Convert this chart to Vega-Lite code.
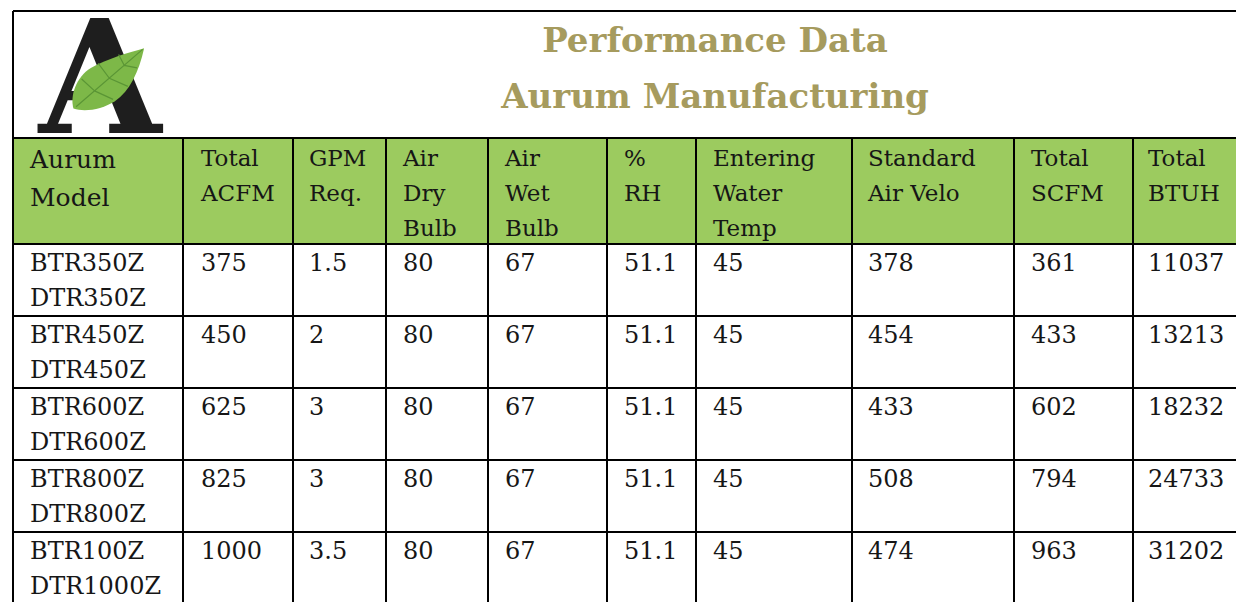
{
  "$schema": "https://vega.github.io/schema/vega-lite/v6.json",
  "padding": {"left": 12, "top": 7, "right": 0, "bottom": 0},
  "columns": 10,
  "spacing": 0,
  "bounds": "flush",
  "config": {
    "view": {"stroke": null},
    "font": "DejaVu Serif",
    "concat": {"spacing": 0},
    "text": {"color": "#161616"},
    "rule": {"color": "#000000", "strokeWidth": 2}
  },
  "datasets": {
    "title": [{"col": "ewt", "title": ["Performance Data", "Aurum Manufacturing"]}],
    "logo": [{"col": "model", "letter": "A"}],
    "headers": [
      {"col": "model", "label": ["Aurum", "Model"]},
      {"col": "acfm", "label": ["Total", "ACFM"]},
      {"col": "gpm", "label": ["GPM", "Req."]},
      {"col": "dry", "label": ["Air", "Dry", "Bulb"]},
      {"col": "wet", "label": ["Air", "Wet", "Bulb"]},
      {"col": "rh", "label": ["%", "RH"]},
      {"col": "ewt", "label": ["Entering", "Water", "Temp"]},
      {"col": "velo", "label": ["Standard", "Air Velo"]},
      {"col": "scfm", "label": ["Total", "SCFM"]},
      {"col": "btuh", "label": ["Total", "BTUH"]}
    ],
    "cells": [
      {"row": 1, "col": "model", "value": ["BTR350Z", "DTR350Z"]},
      {"row": 1, "col": "acfm", "value": "375"},
      {"row": 1, "col": "gpm", "value": "1.5"},
      {"row": 1, "col": "dry", "value": "80"},
      {"row": 1, "col": "wet", "value": "67"},
      {"row": 1, "col": "rh", "value": "51.1"},
      {"row": 1, "col": "ewt", "value": "45"},
      {"row": 1, "col": "velo", "value": "378"},
      {"row": 1, "col": "scfm", "value": "361"},
      {"row": 1, "col": "btuh", "value": "11037"},
      {"row": 2, "col": "model", "value": ["BTR450Z", "DTR450Z"]},
      {"row": 2, "col": "acfm", "value": "450"},
      {"row": 2, "col": "gpm", "value": "2"},
      {"row": 2, "col": "dry", "value": "80"},
      {"row": 2, "col": "wet", "value": "67"},
      {"row": 2, "col": "rh", "value": "51.1"},
      {"row": 2, "col": "ewt", "value": "45"},
      {"row": 2, "col": "velo", "value": "454"},
      {"row": 2, "col": "scfm", "value": "433"},
      {"row": 2, "col": "btuh", "value": "13213"},
      {"row": 3, "col": "model", "value": ["BTR600Z", "DTR600Z"]},
      {"row": 3, "col": "acfm", "value": "625"},
      {"row": 3, "col": "gpm", "value": "3"},
      {"row": 3, "col": "dry", "value": "80"},
      {"row": 3, "col": "wet", "value": "67"},
      {"row": 3, "col": "rh", "value": "51.1"},
      {"row": 3, "col": "ewt", "value": "45"},
      {"row": 3, "col": "velo", "value": "433"},
      {"row": 3, "col": "scfm", "value": "602"},
      {"row": 3, "col": "btuh", "value": "18232"},
      {"row": 4, "col": "model", "value": ["BTR800Z", "DTR800Z"]},
      {"row": 4, "col": "acfm", "value": "825"},
      {"row": 4, "col": "gpm", "value": "3"},
      {"row": 4, "col": "dry", "value": "80"},
      {"row": 4, "col": "wet", "value": "67"},
      {"row": 4, "col": "rh", "value": "51.1"},
      {"row": 4, "col": "ewt", "value": "45"},
      {"row": 4, "col": "velo", "value": "508"},
      {"row": 4, "col": "scfm", "value": "794"},
      {"row": 4, "col": "btuh", "value": "24733"},
      {"row": 5, "col": "model", "value": ["BTR100Z", "DTR1000Z"]},
      {"row": 5, "col": "acfm", "value": "1000"},
      {"row": 5, "col": "gpm", "value": "3.5"},
      {"row": 5, "col": "dry", "value": "80"},
      {"row": 5, "col": "wet", "value": "67"},
      {"row": 5, "col": "rh", "value": "51.1"},
      {"row": 5, "col": "ewt", "value": "45"},
      {"row": 5, "col": "velo", "value": "474"},
      {"row": 5, "col": "scfm", "value": "963"},
      {"row": 5, "col": "btuh", "value": "31202"}
    ]
  },
  "concat": [
    {"width": 170, "height": 127, "data": {"name": "logo"},
     "layer": [
      {"mark": {"type": "rule"}, "encoding": {"y": {"field": "col", "type": "nominal", "axis": null, "bandPosition": 0, "scale": {"type": "band", "paddingInner": 0, "paddingOuter": 0}}}},
      {"mark": {"type": "rule"}, "encoding": {"x": {"field": "col", "type": "nominal", "axis": null, "bandPosition": 0, "scale": {"type": "band", "paddingInner": 0, "paddingOuter": 0}}}},
      {"mark": {"type": "text", "fontWeight": "bold", "fontSize": 158, "color": "#1e1e1e", "align": "center", "baseline": "alphabetic", "xOffset": 2, "yOffset": 58.5},
       "encoding": {"text": {"field": "letter", "type": "nominal"}}},
      {"mark": {"type": "point", "shape": "M0.99,-0.83 C0.6,-0.72 0,-0.55 -0.45,-0.3 C-0.85,-0.05 -1.02,0.45 -0.92,0.8 C-0.6,0.9 -0.15,0.82 0.2,0.6 C0.6,0.33 0.85,-0.2 0.99,-0.83 Z", "filled": true, "color": "#7DB848", "opacity": 1, "size": 5476, "strokeWidth": 0, "xOffset": 9.5, "yOffset": 4.5},
       "encoding": {}},
      {"mark": {"type": "point", "shape": "M-0.85,0.75 L0.95,-0.8 M-0.35,0.32 L-0.7,0.0 M0.05,-0.02 L-0.25,-0.42 M0.45,-0.37 L0.3,-0.66 M-0.35,0.32 L0.15,0.55 M0.05,-0.02 L0.55,0.2 M0.45,-0.37 L0.8,-0.3", "filled": false, "color": "#5A9535", "opacity": 1, "size": 5476, "strokeWidth": 1.2, "xOffset": 9.5, "yOffset": 4.5},
       "encoding": {}}
     ]},
    {"width": 110, "height": 127, "data": {"name": "headers"}, "transform": [{"filter": {"field": "col", "equal": "acfm"}}],
     "mark": {"type": "rule"}, "encoding": {"y": {"field": "col", "type": "nominal", "axis": null, "bandPosition": 0, "scale": {"type": "band", "paddingInner": 0, "paddingOuter": 0}}}},
    {"width": 93, "height": 127, "data": {"name": "headers"}, "transform": [{"filter": {"field": "col", "equal": "gpm"}}],
     "mark": {"type": "rule"}, "encoding": {"y": {"field": "col", "type": "nominal", "axis": null, "bandPosition": 0, "scale": {"type": "band", "paddingInner": 0, "paddingOuter": 0}}}},
    {"width": 102, "height": 127, "data": {"name": "headers"}, "transform": [{"filter": {"field": "col", "equal": "dry"}}],
     "mark": {"type": "rule"}, "encoding": {"y": {"field": "col", "type": "nominal", "axis": null, "bandPosition": 0, "scale": {"type": "band", "paddingInner": 0, "paddingOuter": 0}}}},
    {"width": 119, "height": 127, "data": {"name": "headers"}, "transform": [{"filter": {"field": "col", "equal": "wet"}}],
     "mark": {"type": "rule"}, "encoding": {"y": {"field": "col", "type": "nominal", "axis": null, "bandPosition": 0, "scale": {"type": "band", "paddingInner": 0, "paddingOuter": 0}}}},
    {"width": 89, "height": 127, "data": {"name": "headers"}, "transform": [{"filter": {"field": "col", "equal": "rh"}}],
     "mark": {"type": "rule"}, "encoding": {"y": {"field": "col", "type": "nominal", "axis": null, "bandPosition": 0, "scale": {"type": "band", "paddingInner": 0, "paddingOuter": 0}}}},
    {"width": 156, "height": 127,
     "layer": [
      {"data": {"name": "headers"}, "transform": [{"filter": {"field": "col", "equal": "ewt"}}],
       "mark": {"type": "rule"}, "encoding": {"y": {"field": "col", "type": "nominal", "axis": null, "bandPosition": 0, "scale": {"type": "band", "paddingInner": 0, "paddingOuter": 0}}}},
      {"data": {"name": "title"},
       "mark": {"type": "text", "fontSize": 34, "fontWeight": "bold", "color": "#A69B5E", "align": "center", "baseline": "alphabetic", "lineHeight": 56, "xOffset": -59, "yOffset": -22.5},
       "encoding": {"text": {"field": "title", "type": "nominal"}}}
     ]},
    {"width": 162, "height": 127, "data": {"name": "headers"}, "transform": [{"filter": {"field": "col", "equal": "velo"}}],
     "mark": {"type": "rule"}, "encoding": {"y": {"field": "col", "type": "nominal", "axis": null, "bandPosition": 0, "scale": {"type": "band", "paddingInner": 0, "paddingOuter": 0}}}},
    {"width": 119, "height": 127, "data": {"name": "headers"}, "transform": [{"filter": {"field": "col", "equal": "scfm"}}],
     "mark": {"type": "rule"}, "encoding": {"y": {"field": "col", "type": "nominal", "axis": null, "bandPosition": 0, "scale": {"type": "band", "paddingInner": 0, "paddingOuter": 0}}}},
    {"width": 110, "height": 127, "data": {"name": "headers"}, "transform": [{"filter": {"field": "col", "equal": "btuh"}}],
     "mark": {"type": "rule"}, "encoding": {"y": {"field": "col", "type": "nominal", "axis": null, "bandPosition": 0, "scale": {"type": "band", "paddingInner": 0, "paddingOuter": 0}}}},

    {"width": 170, "height": 106, "data": {"name": "headers"}, "transform": [{"filter": {"field": "col", "equal": "model"}}],
     "layer": [
      {"mark": {"type": "rect", "fill": "#9CCB5F", "stroke": "#000000", "strokeWidth": 2}, "encoding": {"x": {"field": "col", "type": "nominal", "axis": null, "scale": {"paddingInner": 0, "paddingOuter": 0}}}},
      {"mark": {"type": "text", "align": "left", "baseline": "alphabetic", "dx": 17, "dy": 30, "fontSize": 25, "lineHeight": 38}, "encoding": {"x": {"field": "col", "type": "nominal", "axis": null, "bandPosition": 0}, "y": {"field": "col", "type": "nominal", "axis": null, "bandPosition": 0, "scale": {"type": "band", "paddingInner": 0, "paddingOuter": 0}}, "text": {"field": "label", "type": "nominal"}}}
     ]},
    {"width": 110, "height": 106, "data": {"name": "headers"}, "transform": [{"filter": {"field": "col", "equal": "acfm"}}],
     "layer": [
      {"mark": {"type": "rect", "fill": "#9CCB5F", "stroke": "#000000", "strokeWidth": 2}, "encoding": {"x": {"field": "col", "type": "nominal", "axis": null, "scale": {"paddingInner": 0, "paddingOuter": 0}}}},
      {"mark": {"type": "text", "align": "left", "baseline": "alphabetic", "dx": 18, "dy": 28, "fontSize": 23, "lineHeight": 35}, "encoding": {"x": {"field": "col", "type": "nominal", "axis": null, "bandPosition": 0}, "y": {"field": "col", "type": "nominal", "axis": null, "bandPosition": 0, "scale": {"type": "band", "paddingInner": 0, "paddingOuter": 0}}, "text": {"field": "label", "type": "nominal"}}}
     ]},
    {"width": 93, "height": 106, "data": {"name": "headers"}, "transform": [{"filter": {"field": "col", "equal": "gpm"}}],
     "layer": [
      {"mark": {"type": "rect", "fill": "#9CCB5F", "stroke": "#000000", "strokeWidth": 2}, "encoding": {"x": {"field": "col", "type": "nominal", "axis": null, "scale": {"paddingInner": 0, "paddingOuter": 0}}}},
      {"mark": {"type": "text", "align": "left", "baseline": "alphabetic", "dx": 16, "dy": 28, "fontSize": 23, "lineHeight": 35}, "encoding": {"x": {"field": "col", "type": "nominal", "axis": null, "bandPosition": 0}, "y": {"field": "col", "type": "nominal", "axis": null, "bandPosition": 0, "scale": {"type": "band", "paddingInner": 0, "paddingOuter": 0}}, "text": {"field": "label", "type": "nominal"}}}
     ]},
    {"width": 102, "height": 106, "data": {"name": "headers"}, "transform": [{"filter": {"field": "col", "equal": "dry"}}],
     "layer": [
      {"mark": {"type": "rect", "fill": "#9CCB5F", "stroke": "#000000", "strokeWidth": 2}, "encoding": {"x": {"field": "col", "type": "nominal", "axis": null, "scale": {"paddingInner": 0, "paddingOuter": 0}}}},
      {"mark": {"type": "text", "align": "left", "baseline": "alphabetic", "dx": 17, "dy": 28, "fontSize": 23, "lineHeight": 35}, "encoding": {"x": {"field": "col", "type": "nominal", "axis": null, "bandPosition": 0}, "y": {"field": "col", "type": "nominal", "axis": null, "bandPosition": 0, "scale": {"type": "band", "paddingInner": 0, "paddingOuter": 0}}, "text": {"field": "label", "type": "nominal"}}}
     ]},
    {"width": 119, "height": 106, "data": {"name": "headers"}, "transform": [{"filter": {"field": "col", "equal": "wet"}}],
     "layer": [
      {"mark": {"type": "rect", "fill": "#9CCB5F", "stroke": "#000000", "strokeWidth": 2}, "encoding": {"x": {"field": "col", "type": "nominal", "axis": null, "scale": {"paddingInner": 0, "paddingOuter": 0}}}},
      {"mark": {"type": "text", "align": "left", "baseline": "alphabetic", "dx": 17, "dy": 28, "fontSize": 23, "lineHeight": 35}, "encoding": {"x": {"field": "col", "type": "nominal", "axis": null, "bandPosition": 0}, "y": {"field": "col", "type": "nominal", "axis": null, "bandPosition": 0, "scale": {"type": "band", "paddingInner": 0, "paddingOuter": 0}}, "text": {"field": "label", "type": "nominal"}}}
     ]},
    {"width": 89, "height": 106, "data": {"name": "headers"}, "transform": [{"filter": {"field": "col", "equal": "rh"}}],
     "layer": [
      {"mark": {"type": "rect", "fill": "#9CCB5F", "stroke": "#000000", "strokeWidth": 2}, "encoding": {"x": {"field": "col", "type": "nominal", "axis": null, "scale": {"paddingInner": 0, "paddingOuter": 0}}}},
      {"mark": {"type": "text", "align": "left", "baseline": "alphabetic", "dx": 17, "dy": 28, "fontSize": 23, "lineHeight": 35}, "encoding": {"x": {"field": "col", "type": "nominal", "axis": null, "bandPosition": 0}, "y": {"field": "col", "type": "nominal", "axis": null, "bandPosition": 0, "scale": {"type": "band", "paddingInner": 0, "paddingOuter": 0}}, "text": {"field": "label", "type": "nominal"}}}
     ]},
    {"width": 156, "height": 106, "data": {"name": "headers"}, "transform": [{"filter": {"field": "col", "equal": "ewt"}}],
     "layer": [
      {"mark": {"type": "rect", "fill": "#9CCB5F", "stroke": "#000000", "strokeWidth": 2}, "encoding": {"x": {"field": "col", "type": "nominal", "axis": null, "scale": {"paddingInner": 0, "paddingOuter": 0}}}},
      {"mark": {"type": "text", "align": "left", "baseline": "alphabetic", "dx": 17, "dy": 28, "fontSize": 23, "lineHeight": 35}, "encoding": {"x": {"field": "col", "type": "nominal", "axis": null, "bandPosition": 0}, "y": {"field": "col", "type": "nominal", "axis": null, "bandPosition": 0, "scale": {"type": "band", "paddingInner": 0, "paddingOuter": 0}}, "text": {"field": "label", "type": "nominal"}}}
     ]},
    {"width": 162, "height": 106, "data": {"name": "headers"}, "transform": [{"filter": {"field": "col", "equal": "velo"}}],
     "layer": [
      {"mark": {"type": "rect", "fill": "#9CCB5F", "stroke": "#000000", "strokeWidth": 2}, "encoding": {"x": {"field": "col", "type": "nominal", "axis": null, "scale": {"paddingInner": 0, "paddingOuter": 0}}}},
      {"mark": {"type": "text", "align": "left", "baseline": "alphabetic", "dx": 16, "dy": 28, "fontSize": 23, "lineHeight": 35}, "encoding": {"x": {"field": "col", "type": "nominal", "axis": null, "bandPosition": 0}, "y": {"field": "col", "type": "nominal", "axis": null, "bandPosition": 0, "scale": {"type": "band", "paddingInner": 0, "paddingOuter": 0}}, "text": {"field": "label", "type": "nominal"}}}
     ]},
    {"width": 119, "height": 106, "data": {"name": "headers"}, "transform": [{"filter": {"field": "col", "equal": "scfm"}}],
     "layer": [
      {"mark": {"type": "rect", "fill": "#9CCB5F", "stroke": "#000000", "strokeWidth": 2}, "encoding": {"x": {"field": "col", "type": "nominal", "axis": null, "scale": {"paddingInner": 0, "paddingOuter": 0}}}},
      {"mark": {"type": "text", "align": "left", "baseline": "alphabetic", "dx": 17, "dy": 28, "fontSize": 23, "lineHeight": 35}, "encoding": {"x": {"field": "col", "type": "nominal", "axis": null, "bandPosition": 0}, "y": {"field": "col", "type": "nominal", "axis": null, "bandPosition": 0, "scale": {"type": "band", "paddingInner": 0, "paddingOuter": 0}}, "text": {"field": "label", "type": "nominal"}}}
     ]},
    {"width": 110, "height": 106, "data": {"name": "headers"}, "transform": [{"filter": {"field": "col", "equal": "btuh"}}],
     "layer": [
      {"mark": {"type": "rect", "fill": "#9CCB5F", "stroke": "#000000", "strokeWidth": 2}, "encoding": {"x": {"field": "col", "type": "nominal", "axis": null, "scale": {"paddingInner": 0, "paddingOuter": 0}}}},
      {"mark": {"type": "text", "align": "left", "baseline": "alphabetic", "dx": 15, "dy": 28, "fontSize": 23, "lineHeight": 35}, "encoding": {"x": {"field": "col", "type": "nominal", "axis": null, "bandPosition": 0}, "y": {"field": "col", "type": "nominal", "axis": null, "bandPosition": 0, "scale": {"type": "band", "paddingInner": 0, "paddingOuter": 0}}, "text": {"field": "label", "type": "nominal"}}}
     ]},

    {"width": 170, "height": 360, "data": {"name": "cells"}, "transform": [{"filter": {"field": "col", "equal": "model"}}],
     "layer": [
      {"mark": {"type": "rect", "fill": "#ffffff", "stroke": "#000000", "strokeWidth": 2}, "encoding": {"x": {"field": "col", "type": "nominal", "axis": null, "scale": {"paddingInner": 0, "paddingOuter": 0}}, "y": {"field": "row", "type": "ordinal", "axis": null, "scale": {"paddingInner": 0, "paddingOuter": 0}}}},
      {"mark": {"type": "text", "align": "left", "baseline": "alphabetic", "dx": 17, "dy": 27, "fontSize": 24, "lineHeight": 35}, "encoding": {"x": {"field": "col", "type": "nominal", "axis": null, "bandPosition": 0}, "y": {"field": "row", "type": "ordinal", "axis": null, "bandPosition": 0}, "text": {"field": "value", "type": "nominal"}}}
     ]},
    {"width": 110, "height": 360, "data": {"name": "cells"}, "transform": [{"filter": {"field": "col", "equal": "acfm"}}],
     "layer": [
      {"mark": {"type": "rect", "fill": "#ffffff", "stroke": "#000000", "strokeWidth": 2}, "encoding": {"x": {"field": "col", "type": "nominal", "axis": null, "scale": {"paddingInner": 0, "paddingOuter": 0}}, "y": {"field": "row", "type": "ordinal", "axis": null, "scale": {"paddingInner": 0, "paddingOuter": 0}}}},
      {"mark": {"type": "text", "align": "left", "baseline": "alphabetic", "dx": 18, "dy": 27, "fontSize": 24, "lineHeight": 35}, "encoding": {"x": {"field": "col", "type": "nominal", "axis": null, "bandPosition": 0}, "y": {"field": "row", "type": "ordinal", "axis": null, "bandPosition": 0}, "text": {"field": "value", "type": "nominal"}}}
     ]},
    {"width": 93, "height": 360, "data": {"name": "cells"}, "transform": [{"filter": {"field": "col", "equal": "gpm"}}],
     "layer": [
      {"mark": {"type": "rect", "fill": "#ffffff", "stroke": "#000000", "strokeWidth": 2}, "encoding": {"x": {"field": "col", "type": "nominal", "axis": null, "scale": {"paddingInner": 0, "paddingOuter": 0}}, "y": {"field": "row", "type": "ordinal", "axis": null, "scale": {"paddingInner": 0, "paddingOuter": 0}}}},
      {"mark": {"type": "text", "align": "left", "baseline": "alphabetic", "dx": 16, "dy": 27, "fontSize": 24, "lineHeight": 35}, "encoding": {"x": {"field": "col", "type": "nominal", "axis": null, "bandPosition": 0}, "y": {"field": "row", "type": "ordinal", "axis": null, "bandPosition": 0}, "text": {"field": "value", "type": "nominal"}}}
     ]},
    {"width": 102, "height": 360, "data": {"name": "cells"}, "transform": [{"filter": {"field": "col", "equal": "dry"}}],
     "layer": [
      {"mark": {"type": "rect", "fill": "#ffffff", "stroke": "#000000", "strokeWidth": 2}, "encoding": {"x": {"field": "col", "type": "nominal", "axis": null, "scale": {"paddingInner": 0, "paddingOuter": 0}}, "y": {"field": "row", "type": "ordinal", "axis": null, "scale": {"paddingInner": 0, "paddingOuter": 0}}}},
      {"mark": {"type": "text", "align": "left", "baseline": "alphabetic", "dx": 17, "dy": 27, "fontSize": 24, "lineHeight": 35}, "encoding": {"x": {"field": "col", "type": "nominal", "axis": null, "bandPosition": 0}, "y": {"field": "row", "type": "ordinal", "axis": null, "bandPosition": 0}, "text": {"field": "value", "type": "nominal"}}}
     ]},
    {"width": 119, "height": 360, "data": {"name": "cells"}, "transform": [{"filter": {"field": "col", "equal": "wet"}}],
     "layer": [
      {"mark": {"type": "rect", "fill": "#ffffff", "stroke": "#000000", "strokeWidth": 2}, "encoding": {"x": {"field": "col", "type": "nominal", "axis": null, "scale": {"paddingInner": 0, "paddingOuter": 0}}, "y": {"field": "row", "type": "ordinal", "axis": null, "scale": {"paddingInner": 0, "paddingOuter": 0}}}},
      {"mark": {"type": "text", "align": "left", "baseline": "alphabetic", "dx": 17, "dy": 27, "fontSize": 24, "lineHeight": 35}, "encoding": {"x": {"field": "col", "type": "nominal", "axis": null, "bandPosition": 0}, "y": {"field": "row", "type": "ordinal", "axis": null, "bandPosition": 0}, "text": {"field": "value", "type": "nominal"}}}
     ]},
    {"width": 89, "height": 360, "data": {"name": "cells"}, "transform": [{"filter": {"field": "col", "equal": "rh"}}],
     "layer": [
      {"mark": {"type": "rect", "fill": "#ffffff", "stroke": "#000000", "strokeWidth": 2}, "encoding": {"x": {"field": "col", "type": "nominal", "axis": null, "scale": {"paddingInner": 0, "paddingOuter": 0}}, "y": {"field": "row", "type": "ordinal", "axis": null, "scale": {"paddingInner": 0, "paddingOuter": 0}}}},
      {"mark": {"type": "text", "align": "left", "baseline": "alphabetic", "dx": 17, "dy": 27, "fontSize": 24, "lineHeight": 35}, "encoding": {"x": {"field": "col", "type": "nominal", "axis": null, "bandPosition": 0}, "y": {"field": "row", "type": "ordinal", "axis": null, "bandPosition": 0}, "text": {"field": "value", "type": "nominal"}}}
     ]},
    {"width": 156, "height": 360, "data": {"name": "cells"}, "transform": [{"filter": {"field": "col", "equal": "ewt"}}],
     "layer": [
      {"mark": {"type": "rect", "fill": "#ffffff", "stroke": "#000000", "strokeWidth": 2}, "encoding": {"x": {"field": "col", "type": "nominal", "axis": null, "scale": {"paddingInner": 0, "paddingOuter": 0}}, "y": {"field": "row", "type": "ordinal", "axis": null, "scale": {"paddingInner": 0, "paddingOuter": 0}}}},
      {"mark": {"type": "text", "align": "left", "baseline": "alphabetic", "dx": 17, "dy": 27, "fontSize": 24, "lineHeight": 35}, "encoding": {"x": {"field": "col", "type": "nominal", "axis": null, "bandPosition": 0}, "y": {"field": "row", "type": "ordinal", "axis": null, "bandPosition": 0}, "text": {"field": "value", "type": "nominal"}}}
     ]},
    {"width": 162, "height": 360, "data": {"name": "cells"}, "transform": [{"filter": {"field": "col", "equal": "velo"}}],
     "layer": [
      {"mark": {"type": "rect", "fill": "#ffffff", "stroke": "#000000", "strokeWidth": 2}, "encoding": {"x": {"field": "col", "type": "nominal", "axis": null, "scale": {"paddingInner": 0, "paddingOuter": 0}}, "y": {"field": "row", "type": "ordinal", "axis": null, "scale": {"paddingInner": 0, "paddingOuter": 0}}}},
      {"mark": {"type": "text", "align": "left", "baseline": "alphabetic", "dx": 16, "dy": 27, "fontSize": 24, "lineHeight": 35}, "encoding": {"x": {"field": "col", "type": "nominal", "axis": null, "bandPosition": 0}, "y": {"field": "row", "type": "ordinal", "axis": null, "bandPosition": 0}, "text": {"field": "value", "type": "nominal"}}}
     ]},
    {"width": 119, "height": 360, "data": {"name": "cells"}, "transform": [{"filter": {"field": "col", "equal": "scfm"}}],
     "layer": [
      {"mark": {"type": "rect", "fill": "#ffffff", "stroke": "#000000", "strokeWidth": 2}, "encoding": {"x": {"field": "col", "type": "nominal", "axis": null, "scale": {"paddingInner": 0, "paddingOuter": 0}}, "y": {"field": "row", "type": "ordinal", "axis": null, "scale": {"paddingInner": 0, "paddingOuter": 0}}}},
      {"mark": {"type": "text", "align": "left", "baseline": "alphabetic", "dx": 17, "dy": 27, "fontSize": 24, "lineHeight": 35}, "encoding": {"x": {"field": "col", "type": "nominal", "axis": null, "bandPosition": 0}, "y": {"field": "row", "type": "ordinal", "axis": null, "bandPosition": 0}, "text": {"field": "value", "type": "nominal"}}}
     ]},
    {"width": 110, "height": 360, "data": {"name": "cells"}, "transform": [{"filter": {"field": "col", "equal": "btuh"}}],
     "layer": [
      {"mark": {"type": "rect", "fill": "#ffffff", "stroke": "#000000", "strokeWidth": 2}, "encoding": {"x": {"field": "col", "type": "nominal", "axis": null, "scale": {"paddingInner": 0, "paddingOuter": 0}}, "y": {"field": "row", "type": "ordinal", "axis": null, "scale": {"paddingInner": 0, "paddingOuter": 0}}}},
      {"mark": {"type": "text", "align": "left", "baseline": "alphabetic", "dx": 15, "dy": 27, "fontSize": 24, "lineHeight": 35}, "encoding": {"x": {"field": "col", "type": "nominal", "axis": null, "bandPosition": 0}, "y": {"field": "row", "type": "ordinal", "axis": null, "bandPosition": 0}, "text": {"field": "value", "type": "nominal"}}}
     ]}
  ]
}
